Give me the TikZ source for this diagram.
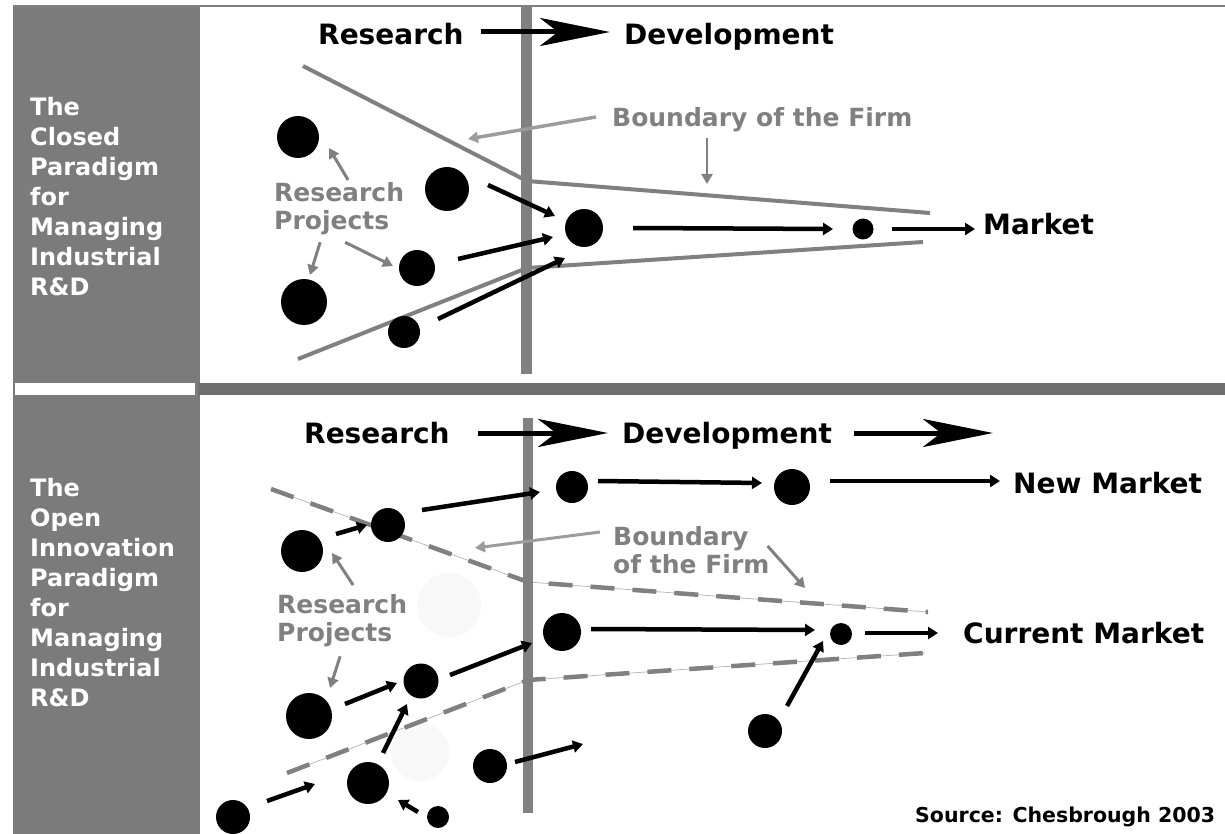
\documentclass[tikz,border=0pt]{standalone}
\usepackage{fontspec}
\setmainfont{DejaVu Sans}
\usetikzlibrary{arrows.meta,calc}
\definecolor{panel-gray}{HTML}{7B7B7B}
\definecolor{band-gray}{HTML}{6E6E6E}
\definecolor{line-gray}{HTML}{808080}
\definecolor{soft-gray}{HTML}{9C9C9C}
\definecolor{ghost}{HTML}{F8F8F8}

\begin{document}
\begin{tikzpicture}[x=1pt, y=-1pt,
  every node/.style={inner sep=0pt},
  side/.style={font=\fontsize{24}{30}\selectfont\bfseries, text=white, align=left, anchor=north west},
  head/.style={font=\fontsize{28}{30}\selectfont\bfseries, text height=20.4pt, text depth=0pt, anchor=west},
  note/.style={font=\fontsize{25}{28.5}\selectfont\bfseries, text=line-gray, align=left},
  proj/.style={circle, fill=black, minimum size=#1},
  flow/.style={line width=4.5pt, -{Triangle[length=10pt,width=12pt]}},
  pointer/.style={draw=line-gray, line width=3pt, -{Triangle[length=10pt,width=11pt]}},
  bigstep/.style={line width=5pt, -{Stealth[length=70pt,width=28pt,inset=18pt]}},
  firm/.style={line-gray, line width=4pt},
  firmthin/.style={line-gray!55, line width=0.8pt},
  firmdash/.style={line-gray, line width=4.5pt, dash pattern=on 24pt off 18pt}]
  \useasboundingbox (0,0) rectangle (1225,834);

  \fill[panel-gray] (13,6) rectangle (200,834);
  \draw[line-gray, line width=1.5pt] (13,6) -- (1225,6);
  \fill[white] (15,383) rectangle (195,395);
  \fill[band-gray] (198,383) rectangle (1225,395);
  \node[side] (closed) at (30,97) {The\\Closed\\Paradigm\\for\\Managing\\Industrial\\R\&D};
  \node[side] (open) at (30,478) {The\\Open\\Innovation\\Paradigm\\for\\Managing\\Industrial\\R\&D};

  \fill[ghost] (449,605) circle[radius=32pt];
  \fill[ghost] (420,752) circle[radius=29pt];

  \draw[firm] (303,66) -- (527,181) -- (930,213);
  \draw[firm] (298,359) -- (527,268) -- (923,242);
  \draw[firmthin] (271,489) -- (528,582) -- (928,612);
  \draw[firmdash] (271,489) -- (528,582) -- (928,612);
  \draw[firmthin] (287,773) -- (528,680) -- (925,653);
  \draw[firmdash] (287,773) -- (528,680) -- (925,653);
  \draw[line-gray, line width=10.5pt] (526.5,7) -- (526.5,374);
  \draw[line-gray, line width=10pt] (528,418) -- (528,813);

  \node[head] (res1) at (318,34) {Research};
  \node[head] (dev1) at (624,34) {Development};
  \node[head] (mkt) at (983,224) {Market};
  \node[note, anchor=west, text height=18.2pt, text depth=0pt] (bnd1) at (612,117) {Boundary of the Firm};
  \node[note, anchor=north west] (rp1) at (274,182) {Research\\Projects};

  \node[head] (res2) at (304,433) {Research};
  \node[head] (dev2) at (622,433) {Development};
  \node[head] (nmkt) at (1013,483) {New Market};
  \node[head] (cmkt) at (963,633) {Current Market};
  \node[note, anchor=north west] (bnd2) at (613,526) {Boundary\\of the Firm};
  \node[note, anchor=north west] (rp2) at (277,594) {Research\\Projects};
  \node[head, font=\fontsize{20.5}{22}\selectfont\bfseries, text height=15pt] (src) at (915,815) {Source: Chesbrough 2003};

  \node[proj=42pt] (t1) at (298,137) {};
  \node[proj=44pt] (t2) at (447,189) {};
  \node[proj=38pt] (t3) at (584,228) {};
  \node[proj=36pt] (t4) at (417,268) {};
  \node[proj=46pt] (t5) at (304,302) {};
  \node[proj=32pt] (t6) at (404,332) {};
  \node[proj=21pt] (t7) at (863,229) {};

  \node[proj=42pt] (oh) at (302,551) {};
  \node[proj=34pt] (oc) at (388,525) {};
  \node[proj=32pt] (oa) at (572,487) {};
  \node[proj=36pt] (ob) at (792,487) {};
  \node[proj=38pt] (od) at (562,632) {};
  \node[proj=22pt] (of) at (841,634) {};
  \node[proj=35pt] (oe) at (421,681) {};
  \node[proj=46pt] (oi) at (309,716) {};
  \node[proj=42pt] (oj) at (368,783) {};
  \node[proj=34pt] (ok) at (233,817) {};
  \node[proj=22pt] (ol) at (438,817) {};
  \node[proj=34pt] (om) at (490,766) {};
  \node[proj=34pt] (og) at (765,731) {};

  \coordinate (dv) at (993,433);
  \coordinate (ub1) at (468,139);
  \coordinate (ub2) at (707,184);
  \coordinate (lb1) at (475,548);
  \coordinate (lb2) at (805,588);
  \coordinate (mx) at (583,744);

  \draw[bigstep, shorten <=17pt, shorten >=14pt] ([yshift=2pt]res1.east) -- ([yshift=2pt]dev1.west);
  \draw[bigstep, shorten <=28pt, shorten >=14pt] (res2.east) -- (dev2.west);
  \draw[bigstep, shorten <=22pt] (dev2.east) -- (dv);

  \draw[flow] ($(t2)+(41,-4)$) -- ($(t3)+(-29,-12)$);
  \draw[flow] ($(t4)+(41,-9)$) -- ($(t3)+(-31,9)$);
  \draw[flow] ($(t6)+(34,-13)$) -- ($(t3)+(-19,30)$);
  \draw[flow] ($(t3)+(49,0)$) -- ($(t7)+(-30,0)$);
  \draw[flow] ($(t7)+(29,0)$) -- ($(mkt.west)+(-8,5)$);

  \draw[pointer, draw=soft-gray, line width=3.5pt] ($(bnd1.west)+(-16,0)$) -- (ub1);
  \draw[pointer, line width=2.2pt, shorten <=12pt] (ub2 |- bnd1.south) -- (ub2);
  \draw[pointer] ($(rp1.north)+(9,-2)$) -- ($(t1)+(31,11)$);
  \draw[pointer] ($(rp1.south)+(-19,7)$) -- ($(t5)+(6,-27)$);
  \draw[pointer] ($(rp1.south)+(6,7)$) -- ($(t4)+(-24,-2)$);

  \draw[pointer, draw=soft-gray] ($(bnd2.north west)+(-13,6)$) -- (lb1);
  \draw[pointer] ($(bnd2.north east)+(-2,20)$) -- (lb2);
  \draw[pointer] ($(rp2.north)+(11,-9)$) -- ($(oh)+(30,2)$);
  \draw[pointer] ($(rp2.south)+(-2,9)$) -- ($(oi)+(21,-28)$);

  \draw[flow] ($(oh)+(34,-17)$) -- ($(oc)+(-21,0)$);
  \draw[flow] ($(oc)+(34,-15)$) -- ($(oa)+(-32,5)$);
  \draw[flow] ($(oa)+(26,-6)$) -- ($(ob)+(-30,-4)$);
  \draw[flow] ($(ob)+(38,-6)$) -- ($(nmkt.west)+(-13,-2)$);
  \draw[flow] ($(oe)+(29,-6)$) -- ($(od)+(-30,11)$);
  \draw[flow] ($(od)+(29,-3)$) -- ($(of)+(-26,-4)$);
  \draw[flow] ($(of)+(24,-1)$) -- ($(cmkt.west)+(-25,0)$);
  \draw[flow] ($(og)+(22,-25)$) -- ($(of)+(-18,7)$);
  \draw[flow] ($(oi)+(36,-12)$) -- ($(oe)+(-24,2)$);
  \draw[flow] ($(oj)+(15,-30)$) -- ($(oe)+(-14,23)$);
  \draw[flow] ($(ok)+(34,-16)$) -- ($(oj)+(-53,1)$);
  \draw[flow] ($(ol)+(-20,-5)$) -- ($(oj)+(30,17)$);
  \draw[flow] ($(om)+(25,-4)$) -- (mx);
\end{tikzpicture}
\end{document}
